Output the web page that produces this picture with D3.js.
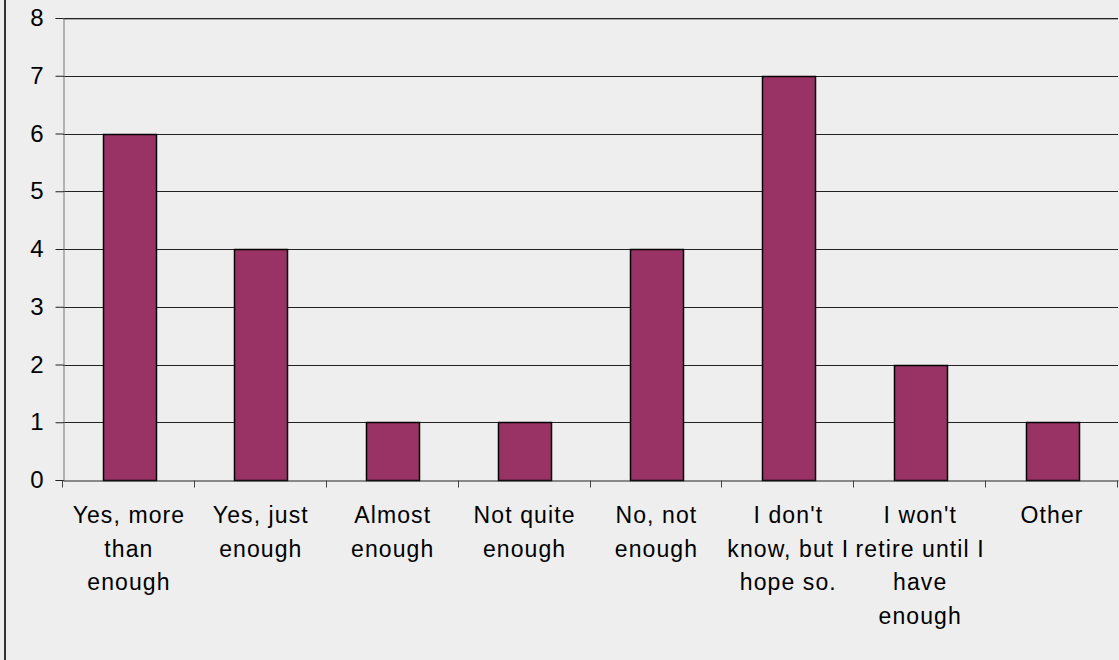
<!DOCTYPE html>
<html>
<head>
<meta charset="utf-8">
<script src="https://cdn.jsdelivr.net/npm/d3@7"></script>
<style>
html,body{margin:0;padding:0;background:#eeeeee;}
svg{display:block;}
text{font-family:"Liberation Sans",Arial,sans-serif;fill:#000;}
</style>
</head>
<body>
<svg id="chart" width="1119" height="660"></svg>
<script>
const categories = [
  "Yes, more\nthan\nenough",
  "Yes, just\nenough",
  "Almost\nenough",
  "Not quite\nenough",
  "No, not\nenough",
  "I don't\nknow, but I\nhope so.",
  "I won't\nretire until I\nhave\nenough",
  "Other"
];
const values = [6, 4, 1, 1, 4, 7, 2, 1];
const yTicks = [0, 1, 2, 3, 4, 5, 6, 7, 8];

const W = 1119, H = 660;
const margin = {left: 63, right: 1, top: 18, bottom: 180};
const svg = d3.select("#chart");

svg.append("rect").attr("x", 0).attr("y", 0).attr("width", W).attr("height", H).attr("fill", "#eeeeee");
svg.append("line").attr("x1", 5).attr("x2", 5).attr("y1", 0).attr("y2", H)
  .attr("stroke", "#333").attr("stroke-width", 2);

const x = d3.scaleBand().domain(categories).range([margin.left, W - margin.right]).paddingInner(0).paddingOuter(0);
const y = d3.scaleLinear().domain([0, 8]).range([480, margin.top]);

// gridlines
svg.append("g").selectAll("line").data(yTicks.filter(d => d > 0)).join("line")
  .attr("x1", margin.left).attr("x2", W - margin.right)
  .attr("y1", d => Math.round(y(d)) + 0.5).attr("y2", d => Math.round(y(d)) + 0.5)
  .attr("stroke", "#222").attr("stroke-width", 1);

// top grid shadow
svg.append("line").attr("x1", margin.left).attr("x2", W - margin.right)
  .attr("y1", Math.round(y(8)) + 1.5).attr("y2", Math.round(y(8)) + 1.5)
  .attr("stroke", "#aaa").attr("stroke-width", 1);

// bars
const bw = x.bandwidth() * 0.4;
svg.append("g").selectAll("rect").data(values).join("rect")
  .attr("x", (d, i) => Math.round(x(categories[i]) + (x.bandwidth() - bw) / 2) + 0.5)
  .attr("y", d => Math.round(y(d)) + 0.5)
  .attr("width", Math.round(bw))
  .attr("height", d => Math.round(y(0)) - Math.round(y(d)))
  .attr("fill", "#993366")
  .attr("stroke", "#000").attr("stroke-width", 1.5);

// y axis
const yAxis = d3.axisLeft(y).tickValues(yTicks).tickSize(8).tickPadding(12).tickFormat(d3.format("d"));
const gy = svg.append("g").attr("transform", `translate(${margin.left + 0.5},0)`).call(yAxis);
gy.select(".domain").attr("stroke", "#777");
gy.selectAll(".tick line").attr("stroke", "#222");
gy.selectAll(".tick text").attr("font-size", 24).attr("font-family", '"Liberation Sans",Arial,sans-serif').attr("fill", "#000");

// x axis
const xAxis = d3.axisBottom(x).tickSize(0).tickFormat("");
const gx = svg.append("g").attr("transform", `translate(0,${Math.round(y(0)) + 0.5})`).call(xAxis);
gx.select(".domain").attr("stroke", "#222");
// category boundary ticks
const bounds = categories.map(c => x(c)).concat([W - margin.right]);
gx.selectAll(".bt").data(bounds).join("line").attr("class", "bt")
  .attr("x1", d => Math.round(d) - 0.5).attr("x2", d => Math.round(d) - 0.5)
  .attr("y1", 0).attr("y2", 7).attr("stroke", "#444");

// x labels
const lab = svg.append("g");
categories.forEach((c, i) => {
  const cx = x(c) + x.bandwidth() / 2;
  const t = lab.append("text").attr("x", cx).attr("y", 523).attr("text-anchor", "middle")
    .attr("font-size", 23).attr("letter-spacing", 1.1);
  c.split("\n").forEach((ln, j) => {
    t.append("tspan").attr("x", cx).attr("y", 523 + j * 33.7).text(ln);
  });
});
</script>
</body>
</html>
